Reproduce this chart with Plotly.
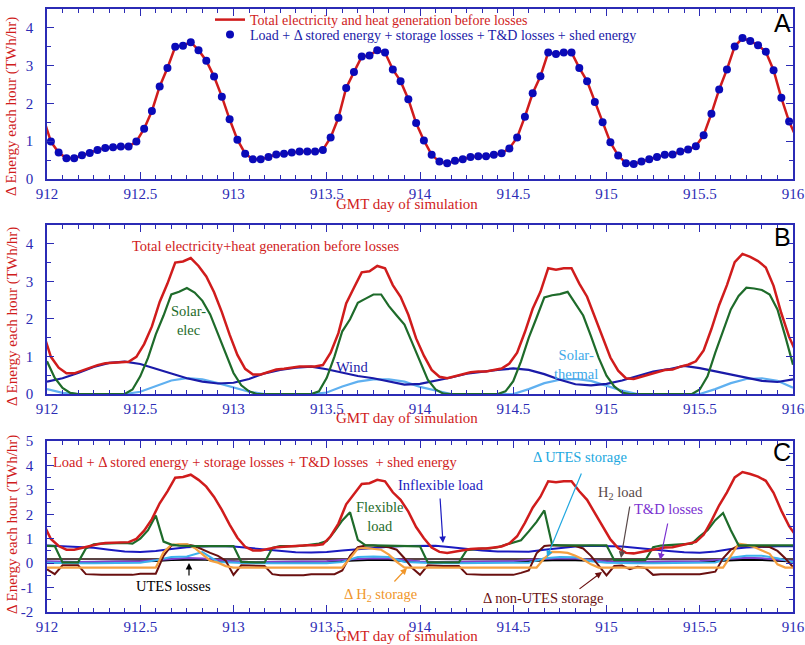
import plotly.graph_objects as go

# ---------------- data ----------------
START_DAY = 912
# Panel A / red total: hourly values at half-hour centres, with one edge value on each side
total_generation = [
    1.63,
    0.99, 0.70, 0.55, 0.55, 0.63, 0.69, 0.77, 0.82, 0.84, 0.86, 0.86, 0.99,
    1.33, 1.80, 2.45, 2.94, 3.50, 3.53, 3.62, 3.41, 3.13, 2.71, 2.18, 1.58,
    1.04, 0.67, 0.52, 0.52, 0.58, 0.65, 0.67, 0.70, 0.73, 0.73, 0.73, 0.77,
    1.10, 1.62, 2.41, 2.83, 3.24, 3.27, 3.41, 3.35, 2.90, 2.59, 2.11, 1.48,
    1.02, 0.64, 0.46, 0.42, 0.48, 0.52, 0.58, 0.60, 0.60, 0.64, 0.68, 0.81,
    1.10, 1.65, 2.27, 2.72, 3.35, 3.31, 3.35, 3.35, 2.94, 2.59, 2.04, 1.50,
    0.97, 0.62, 0.42, 0.40, 0.46, 0.52, 0.58, 0.64, 0.65, 0.73, 0.78, 0.87,
    1.16, 1.73, 2.37, 2.90, 3.51, 3.73, 3.65, 3.54, 3.37, 2.88, 2.15, 1.52,
    1.06,
]
load_plus_storage = total_generation  # dots coincide with the line

# Panel B (hourly, hours 0..96)
solar_elec = [
    0.87, 0.43, 0.16, 0.03, 0.00, 0.00, 0.00, 0.00, 0.00, 0.00, 0.00, 0.12,
    0.47, 0.96, 1.59, 2.09, 2.65, 2.72, 2.82, 2.70, 2.48, 2.12, 1.59, 1.05,
    0.56, 0.23, 0.07, 0.00, 0.00, 0.00, 0.00, 0.00, 0.00, 0.00, 0.00, 0.07,
    0.43, 1.00, 1.67, 1.99, 2.43, 2.54, 2.65, 2.65, 2.34, 2.09, 1.85, 1.36,
    0.87, 0.38, 0.12, 0.01, 0.00, 0.00, 0.00, 0.00, 0.00, 0.00, 0.00, 0.07,
    0.34, 0.87, 1.50, 2.03, 2.57, 2.63, 2.66, 2.72, 2.39, 2.09, 1.54, 0.96,
    0.49, 0.20, 0.04, 0.00, 0.00, 0.00, 0.00, 0.00, 0.00, 0.00, 0.00, 0.00,
    0.12, 0.47, 1.10, 1.67, 2.25, 2.61, 2.83, 2.81, 2.77, 2.65, 2.25, 1.54,
    0.78,
]
# 2-hourly series (hours 0,2,...,96)
wind = [0.33, 0.42, 0.56, 0.72, 0.83, 0.86, 0.80, 0.68, 0.55, 0.42, 0.33, 0.28,
        0.30, 0.40, 0.55, 0.64, 0.70, 0.73, 0.66, 0.56, 0.48, 0.42, 0.33, 0.25,
        0.27, 0.35, 0.44, 0.54, 0.60, 0.64, 0.68, 0.64, 0.53, 0.38, 0.26, 0.23,
        0.27, 0.36, 0.48, 0.60, 0.66, 0.75, 0.69, 0.60, 0.53, 0.42, 0.35, 0.32,
        0.39]
solar_thermal = [0.13, 0.03, 0.00, 0.00, 0.00, 0.00, 0.06, 0.22, 0.36, 0.42, 0.39, 0.29,
                 0.17, 0.06, 0.00, 0.00, 0.00, 0.00, 0.04, 0.20, 0.33, 0.39, 0.39, 0.33,
                 0.19, 0.09, 0.00, 0.00, 0.00, 0.00, 0.00, 0.13, 0.29, 0.38, 0.40, 0.35,
                 0.22, 0.09, 0.00, 0.00, 0.00, 0.00, 0.00, 0.13, 0.29, 0.40, 0.42, 0.35,
                 0.17]

# Panel C (hourly, hours 0..96)
flexible_load = [
    0.71, 0.70, 0.03, 0.03, 0.03, 0.60, 0.77, 0.80, 0.82, 0.83, 0.83, 0.80,
    1.00, 1.35, 1.95, 0.88, 0.76, 0.72, 0.70, 0.70, 0.70, 0.70, 0.70, 0.70,
    0.70, 0.05, 0.03, 0.03, 0.03, 0.62, 0.70, 0.69, 0.70, 0.72, 0.75, 0.80,
    0.90, 1.30, 1.75, 2.08, 0.95, 0.73, 0.73, 0.72, 0.72, 0.72, 0.72, 0.70,
    0.69, 0.03, 0.03, 0.03, 0.03, 0.03, 0.53, 0.58, 0.60, 0.60, 0.65, 0.75,
    0.85, 0.94, 1.30, 1.69, 2.16, 0.75, 0.73, 0.73, 0.73, 0.73, 0.73, 0.73,
    0.73, 0.12, 0.12, 0.12, 0.12, 0.12, 0.65, 0.72, 0.74, 0.76, 0.78, 0.80,
    1.10, 1.35, 1.76, 2.05, 1.35, 0.73, 0.73, 0.73, 0.73, 0.73, 0.73, 0.73,
    0.73,
]
h2_storage = [
    -0.18, -0.18, -0.18, -0.18, -0.18, -0.18, -0.18, -0.18, -0.18, -0.18, -0.18, -0.18,
    -0.18, -0.18, -0.18, 0.45, 0.75, 0.77, 0.77, 0.62, 0.35, 0.10, 0.02, -0.12,
    -0.18, -0.18, -0.18, -0.18, -0.18, -0.18, -0.18, -0.18, -0.18, -0.18, -0.18, -0.18,
    -0.18, -0.18, -0.18, 0.20, 0.60, 0.62, 0.60, 0.55, 0.35, 0.05, -0.18, -0.18,
    -0.18, -0.18, -0.18, -0.18, -0.18, -0.18, -0.18, -0.18, -0.18, -0.18, -0.18, -0.18,
    -0.18, -0.18, -0.18, -0.18, 0.20, 0.46, 0.45, 0.42, 0.30, 0.15, -0.05, -0.18,
    -0.18, -0.18, -0.18, -0.18, -0.18, -0.18, -0.18, -0.18, -0.18, -0.18, -0.18, -0.18,
    -0.18, -0.18, -0.18, -0.18, 0.30, 0.80, 0.75, 0.66, 0.52, 0.38, -0.05, -0.18,
    -0.18,
]
non_utes_storage = [
    -0.25, -0.45, -0.09, -0.10, -0.09, -0.45, -0.48, -0.48, -0.48, -0.48, -0.48, -0.48,
    -0.43, -0.43, -0.43, 0.30, 0.72, 0.75, 0.76, 0.70, 0.55, 0.42, 0.30, 0.10,
    -0.48, -0.09, -0.10, -0.10, -0.12, -0.45, -0.50, -0.50, -0.50, -0.50, -0.45, -0.45,
    -0.45, -0.45, -0.30, 0.30, 0.65, 0.72, 0.72, 0.70, 0.65, 0.55, 0.20, -0.20,
    -0.48, -0.09, -0.12, -0.12, -0.12, -0.12, -0.45, -0.48, -0.48, -0.48, -0.48, -0.48,
    -0.48, -0.40, -0.30, 0.40, 0.70, 0.73, 0.73, 0.73, 0.70, 0.60, 0.30, -0.10,
    -0.50, -0.12, -0.10, -0.25, -0.15, -0.20, -0.48, -0.45, -0.45, -0.45, -0.45, -0.45,
    -0.45, -0.40, -0.35, 0.20, 0.55, 0.72, 0.72, 0.70, 0.68, 0.66, 0.50, 0.20,
    -0.16,
]
# 2-hourly series (hours 0,2,...,96)
inflexible_load = [0.72, 0.70, 0.67, 0.63, 0.55, 0.48, 0.46, 0.50, 0.58, 0.65, 0.68, 0.70,
                   0.68, 0.62, 0.55, 0.48, 0.45, 0.44, 0.46, 0.52, 0.58, 0.63, 0.67, 0.70,
                   0.71, 0.71, 0.65, 0.57, 0.52, 0.48, 0.46, 0.47, 0.55, 0.63, 0.68, 0.71,
                   0.71, 0.68, 0.62, 0.55, 0.50, 0.45, 0.43, 0.48, 0.58, 0.64, 0.68, 0.69,
                   0.69]
h2_load = [0.17, 0.17, 0.17, 0.17, 0.17, 0.17, 0.17, 0.17, 0.17, 0.17, 0.17, 0.17,
           0.17, 0.17, 0.17, 0.17, 0.17, 0.17, 0.17, 0.17, 0.17, 0.17, 0.17, 0.17,
           0.17, 0.17, 0.17, 0.17, 0.17, 0.17, 0.17, 0.17, 0.17, 0.17, 0.17, 0.17,
           0.17, 0.17, 0.17, 0.17, 0.17, 0.17, 0.17, 0.17, 0.17, 0.17, 0.17, 0.17,
           0.17]
td_losses = [0.08, 0.06, 0.05, 0.06, 0.06, 0.07, 0.08, 0.12, 0.18, 0.21, 0.19, 0.12,
             0.07, 0.05, 0.05, 0.06, 0.06, 0.07, 0.08, 0.13, 0.18, 0.20, 0.19, 0.12,
             0.07, 0.05, 0.05, 0.06, 0.06, 0.07, 0.08, 0.13, 0.18, 0.20, 0.19, 0.12,
             0.07, 0.05, 0.05, 0.06, 0.06, 0.07, 0.08, 0.13, 0.19, 0.22, 0.20, 0.13,
             0.08]
utes_storage = [0.02, 0.00, 0.00, 0.00, 0.00, 0.00, 0.02, 0.12, 0.25, 0.27, 0.45, 0.05,
                0.02, 0.00, 0.00, 0.00, 0.00, 0.00, 0.00, 0.05, 0.25, 0.27, 0.25, 0.05,
                0.02, 0.00, 0.00, 0.00, 0.00, 0.00, 0.00, 0.02, 0.20, 0.25, 0.24, 0.08,
                0.02, 0.00, 0.00, 0.00, 0.00, 0.00, 0.00, 0.03, 0.22, 0.30, 0.30, 0.20,
                0.05]
utes_losses = [0.02, 0.03, 0.04, 0.05, 0.05, 0.06, 0.07, 0.09, 0.13, 0.15, 0.15, 0.10,
               0.06, 0.05, 0.05, 0.05, 0.05, 0.06, 0.07, 0.09, 0.13, 0.14, 0.13, 0.09,
               0.06, 0.05, 0.05, 0.05, 0.05, 0.06, 0.07, 0.09, 0.12, 0.13, 0.12, 0.09,
               0.07, 0.06, 0.05, 0.05, 0.05, 0.06, 0.07, 0.09, 0.12, 0.14, 0.13, 0.10,
               0.07]

# ---------------- time axes ----------------
x_half = [START_DAY + (k + 0.5) / 24 for k in range(-1, len(total_generation) - 1)]
x_hour = [START_DAY + h / 24 for h in range(len(solar_elec))]
x_2hour = [START_DAY + 2 * h / 24 for h in range(len(wind))]

# ---------------- styling ----------------
W, H = 805, 645
def px(x): return x / W
def py(y): return 1 - y / H

AX = '#2b2bb5'
RED = '#d01c1c'
SERIF = 'Liberation Serif, Times New Roman, serif'
SANS = 'Liberation Sans, Arial, sans-serif'
X0, X1 = 47, 793
panels = [(9, 179), (225, 394), (441, 612)]

fig = go.Figure()

def line(x, y, color, width, ax_i):
    sfx = '' if ax_i == 1 else str(ax_i)
    fig.add_trace(go.Scatter(x=x, y=y, mode='lines', line=dict(color=color, width=width),
                             xaxis='x' + sfx, yaxis='y' + sfx, showlegend=False,
                             hoverinfo='skip'))

# Panel A
fig.add_trace(go.Scatter(x=x_half, y=total_generation, mode='lines',
                         line=dict(color=RED, width=2.5),
                         name='<span style="color:#d01c1c">Total electricity and heat generation before losses</span>',
                         xaxis='x', yaxis='y', showlegend=True, legend='legend', hoverinfo='skip'))
fig.add_trace(go.Scatter(x=x_half[1:-1], y=load_plus_storage[1:-1], mode='markers',
                         marker=dict(color='#0a0ab8', size=8),
                         name='<span style="color:#1a1aa8">Load + Δ stored energy + storage losses + T&amp;D losses + shed energy</span>',
                         xaxis='x', yaxis='y', showlegend=True, legend='legend2', hoverinfo='skip'))

# Panel B
line(x_2hour, solar_thermal, '#5fb0f0', 2.2, 2)
line(x_2hour, wind, '#1a1aa8', 2.2, 2)
line(x_hour, solar_elec, '#1e6b2a', 2.2, 2)
line(x_half, total_generation, RED, 2.5, 2)

# Panel C
line(x_2hour, h2_load, '#5a4444', 1.8, 3)
line(x_2hour, utes_losses, '#000000', 2, 3)
line(x_2hour, td_losses, '#8040d0', 1.8, 3)
line(x_2hour, utes_storage, '#3db2ee', 2, 3)
line(x_2hour, inflexible_load, '#1a1ac0', 2, 3)
line(x_hour, non_utes_storage, '#6a1010', 2, 3)
line(x_hour, h2_storage, '#f5a040', 2.2, 3)
line(x_hour, flexible_load, '#1e6b2a', 2.2, 3)
line(x_half, total_generation, RED, 2.5, 3)

layout = dict(width=W, height=H, margin=dict(l=0, r=0, t=0, b=0, autoexpand=False),
              autosize=False, paper_bgcolor='white', plot_bgcolor='white', showlegend=True,
              font=dict(family=SERIF, size=15, color=AX))

yranges = [[0, 4.5], [0, 4.5], [-2, 5]]
for i, ((top, bot), yr) in enumerate(zip(panels, yranges), start=1):
    sfx = '' if i == 1 else str(i)
    layout['xaxis' + sfx] = dict(
        domain=[px(X0), px(X1)], anchor='y' + sfx, range=[912, 916], automargin=False,
        tick0=912, dtick=0.5, ticks='inside', ticklen=7, tickcolor=AX, tickwidth=1,
        showline=True, linecolor=AX, linewidth=1.5, mirror='ticks',
        showgrid=False, zeroline=False,
        tickfont=dict(family=SERIF, size=15, color=AX),
        minor=dict(dtick=1 / 12, tick0=912, ticks='inside', ticklen=4, tickcolor=AX, showgrid=False))
    if i == 3:
        tv = [-2, -1, 0, 1, 2, 3, 4, 5]
        tt = ['-2', '-1', '0', '1', '2', '3', '4', '5']
    else:
        tv = [0, 1, 2, 3, 4]
        tt = ['0', '1', '2', '3', '4']
    layout['yaxis' + sfx] = dict(
        domain=[py(bot), py(top)], anchor='x' + sfx, range=yr, automargin=False,
        tickvals=tv, ticktext=tt, ticks='inside', ticklen=7, tickcolor=AX,
        showline=True, linecolor=AX, linewidth=1.5, mirror='ticks',
        showgrid=False, zeroline=False, ticklabelstandoff=9,
        tickfont=dict(family=SERIF, size=15, color=AX),
        minor=dict(dtick=0.5, ticks='inside', ticklen=4, tickcolor=AX, showgrid=False))

layout['legend'] = dict(x=px(210), y=py(20), xanchor='left', yanchor='middle',
                        bgcolor='rgba(0,0,0,0)', font=dict(family=SERIF, size=14),
                        itemwidth=30, tracegroupgap=0)
layout['legend2'] = dict(x=px(210), y=py(35), xanchor='left', yanchor='middle',
                         bgcolor='rgba(0,0,0,0)', font=dict(family=SERIF, size=14),
                         itemwidth=30, tracegroupgap=0)

ann = []
def text(x, y, s, color, size=14.5, family=SERIF, angle=0):
    ann.append(dict(x=px(x), y=py(y), xref='paper', yref='paper', text=s, showarrow=False,
                    font=dict(family=family, size=size, color=color), textangle=angle,
                    xanchor='center', yanchor='middle', align='center'))

def arrow(tail, head, color):
    ann.append(dict(x=px(head[0]), y=py(head[1]), xref='paper', yref='paper', text='',
                    showarrow=True, ax=tail[0] - head[0], ay=tail[1] - head[1],
                    axref='pixel', ayref='pixel', arrowhead=2, arrowsize=1.1,
                    arrowwidth=1.2, arrowcolor=color))

# axis titles
for yc in (107, 317, 525):
    text(12, yc, 'Δ Energy each hour (TWh/hr)', RED, 15, angle=-90)
for yc in (204, 418, 636):
    text(407, yc, 'GMT day of simulation', RED, 15)

# panel letters
for lab, yc in (('A', 23), ('B', 237), ('C', 452)):
    text(782, yc, lab, 'black', 25, family=SANS)

# panel B labels
text(266, 246, 'Total electricity+heat generation before losses', RED)
text(188, 321, 'Solar-<br>elec', '#1e6b2a')
text(352, 367, 'Wind', '#1a1aa8')
text(576, 364, 'Solar-<br>thermal', '#3da8e8')

# panel C labels
text(255, 462, 'Load + Δ stored energy + storage losses + T&amp;D losses  + shed energy', RED)
text(380, 516, 'Flexible<br>load', '#1e6b2a')
text(441, 485, 'Inflexible load', '#1a1ac0')
text(580, 457, 'Δ UTES storage', '#22a8e0')
text(620, 493, 'H<sub>2</sub> load', '#5a4a4a')
text(668, 509, 'T&amp;D losses', '#7a30d0')
text(543, 598, 'Δ non-UTES storage', '#6a1010')
text(380, 595, 'Δ H<sub>2</sub> storage', '#f0962a')
text(173, 586, 'UTES losses', 'black')

arrow((440, 497), (443, 543), '#1a1ac0')
arrow((582, 472), (547, 557), '#22a8e0')
arrow((630, 505), (621, 558), '#5a4a4a')
arrow((668, 522), (660, 560), '#7a30d0')
arrow((578, 590), (602, 572), '#6a1010')
arrow((393, 583), (407, 568), '#f0962a')
arrow((189, 577), (189, 563), 'black')

layout['annotations'] = ann
fig.update_layout(**layout)
# remove the default 8 px page margin so the 805x645 figure fills the window exactly
fig.write_html('out.html', config={'displayModeBar': False},
               post_script="document.body.style.margin='0px';document.body.style.overflow='hidden';")
